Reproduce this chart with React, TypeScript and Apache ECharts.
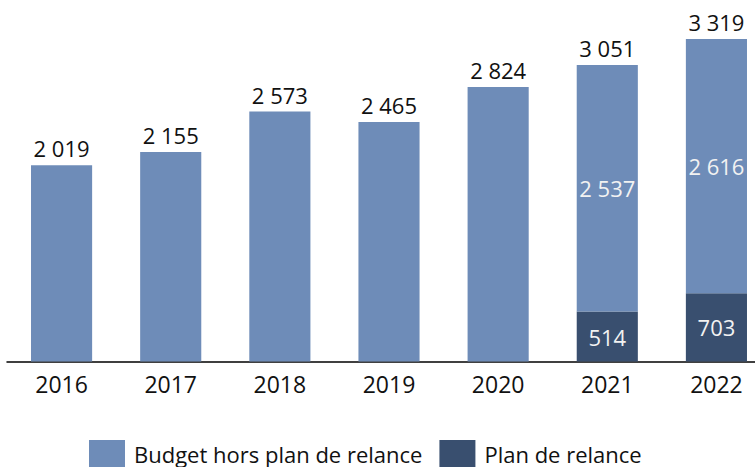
import React, { useEffect, useRef } from "react";
import * as echarts from "echarts";

const categories = ["2016", "2017", "2018", "2019", "2020", "2021", "2022"];
const budgetHorsPlan = [2019, 2155, 2573, 2465, 2824, 2537, 2616];
const planDeRelance: (number | null)[] = [null, null, null, null, null, 514, 703];
const seriesNames = ["Budget hors plan de relance", "Plan de relance"];

const LIGHT = "#6E8CB8";
const DARK = "#394F6F";
const FONT = "Open Sans";

function fmt(v: number): string {
  const s = Math.round(v).toString();
  if (s.length <= 3) return s;
  return s.slice(0, s.length - 3) + " " + s.slice(s.length - 3);
}

export default function App() {
  const ref = useRef<HTMLDivElement>(null);
  useEffect(() => {
    if (!ref.current) return;
    const chart = echarts.init(ref.current, null, { renderer: "svg" });
    const hasPlan = planDeRelance.map((p) => p != null && p > 0);
    const totals = budgetHorsPlan.map((b, i) => b + (planDeRelance[i] || 0));
    chart.setOption({
      animation: false,
      textStyle: { fontFamily: FONT },
      grid: { left: 7, right: 0, top: 2, height: 359.5, containLabel: false },
      legend: {
        data: seriesNames,
        top: 440,
        left: 89,
        padding: 0,
        itemWidth: 36,
        itemHeight: 28,
        itemGap: 17,
        icon: "rect",
        textStyle: { fontFamily: FONT, fontSize: 22, color: "#111", padding: [0, 0, 0, 4] },
      },
      xAxis: {
        type: "category",
        data: categories,
        axisLine: { lineStyle: { color: "#000", width: 1.5 } },
        axisTick: { show: false },
        axisLabel: { fontFamily: FONT, fontSize: 23, color: "#111", margin: 11 },
      },
      yAxis: {
        type: "value",
        min: 0,
        max: 3700,
        show: false,
        splitLine: { show: false },
      },
      series: [
        {
          name: "Plan de relance",
          type: "bar",
          stack: "total",
          barCategoryGap: "44%",
          itemStyle: { color: DARK },
          data: planDeRelance,
          label: {
            show: true,
            position: "inside",
            color: "#F2F2F2",
            fontFamily: FONT,
            fontSize: 22,
            formatter: (p: any) => fmt(p.value),
          },
        },
        {
          name: "Budget hors plan de relance",
          type: "bar",
          stack: "total",
          barCategoryGap: "44%",
          itemStyle: { color: LIGHT },
          data: budgetHorsPlan.map((v, i) => ({
            value: v,
            label: hasPlan[i]
              ? { show: true, position: "inside", color: "#F2F2F2" }
              : { show: true, position: "top", color: "#111", distance: 6 },
          })),
          label: {
            show: true,
            fontFamily: FONT,
            fontSize: 22,
            formatter: (p: any) => fmt(p.value),
          },
        },
        {
          name: "Total",
          type: "bar",
          stack: "total",
          barCategoryGap: "44%",
          itemStyle: { color: "transparent" },
          data: hasPlan.map((h) => (h ? 0 : null)),
          label: {
            show: true,
            position: "top",
            color: "#111",
            distance: 6,
            fontFamily: FONT,
            fontSize: 22,
            formatter: (p: any) => fmt(totals[p.dataIndex]),
          },
        },
      ],
    });
    return () => chart.dispose();
  }, []);
  return (
    <div
      style={{ position: "fixed", left: 0, top: 0, width: 755, height: 467, overflow: "hidden", background: "#fff" }}
    >
      <div ref={ref} style={{ width: 771, height: 467 }} />
    </div>
  );
}
